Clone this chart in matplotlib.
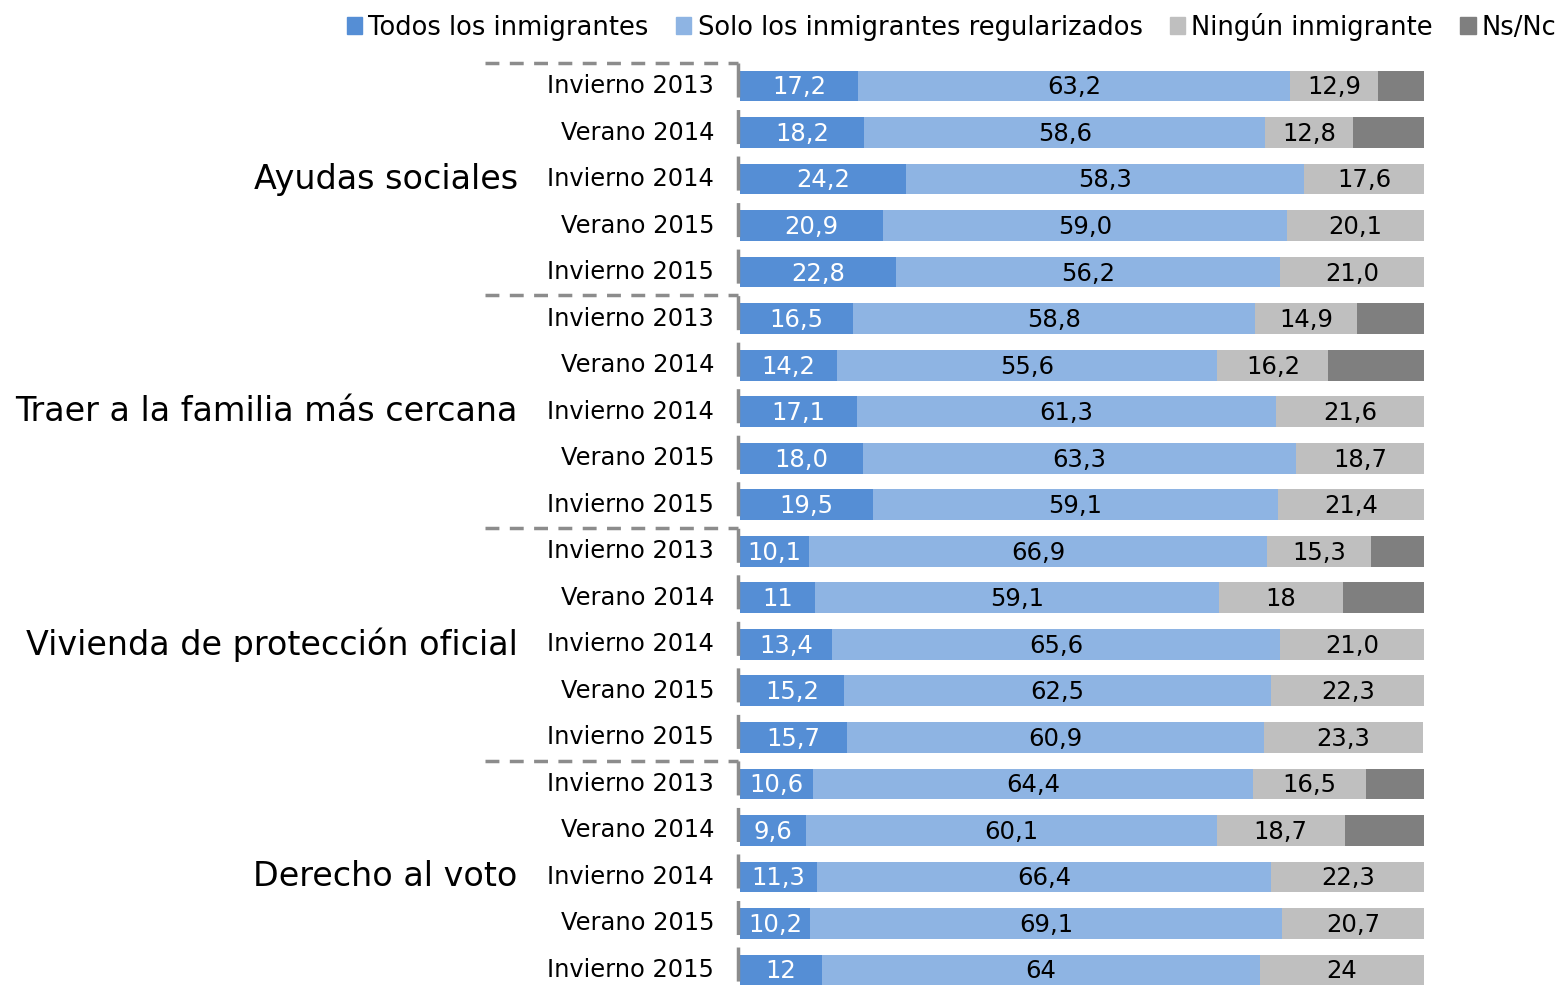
import matplotlib
matplotlib.use("Agg")
import matplotlib.pyplot as plt
import matplotlib.transforms as mtransforms
from matplotlib.patches import Patch

plt.rcParams['font.family'] = ['DejaVu Sans']

groups = ["Ayudas sociales", "Traer a la familia más cercana",
          "Vivienda de protección oficial", "Derecho al voto"]
periods = ["Invierno 2013", "Verano 2014", "Invierno 2014", "Verano 2015", "Invierno 2015"]

todos = [17.2, 18.2, 24.2, 20.9, 22.8,
         16.5, 14.2, 17.1, 18.0, 19.5,
         10.1, 11, 13.4, 15.2, 15.7,
         10.6, 9.6, 11.3, 10.2, 12]
solo = [63.2, 58.6, 58.3, 59.0, 56.2,
        58.8, 55.6, 61.3, 63.3, 59.1,
        66.9, 59.1, 65.6, 62.5, 60.9,
        64.4, 60.1, 66.4, 69.1, 64]
ninguno = [12.9, 12.8, 17.6, 20.1, 21.0,
           14.9, 16.2, 21.6, 18.7, 21.4,
           15.3, 18, 21.0, 22.3, 23.3,
           16.5, 18.7, 22.3, 20.7, 24]
nsnc = [6.7, 10.4, 0, 0, 0,
        9.8, 14.0, 0, 0, 0,
        7.7, 11.9, 0, 0, 0,
        8.5, 11.6, 0, 0, 0]

series = [("Todos los inmigrantes", todos, "#558ED5", "white"),
          ("Solo los inmigrantes regularizados", solo, "#8EB4E3", "black"),
          ("Ningún inmigrante", ninguno, "#BFBFBF", "black"),
          ("Ns/Nc", nsnc, "#7F7F7F", None)]

W, H = 1562, 990
fig = plt.figure(figsize=(W / 100, H / 100), dpi=100)
x0, x1 = 740, 1424
ytop, ybot = 62.75, 993.25
ax = fig.add_axes([x0 / W, 1 - ybot / H, (x1 - x0) / W, (ybot - ytop) / H])

n = len(todos)
ypos = list(range(n))
left = [0] * n
for name, vals, color, tcolor in series:
    ax.barh(ypos, vals, left=left, height=0.66, color=color, label=name)
    if tcolor:
        for i, v in enumerate(vals):
            ax.text(left[i] + v / 2, i + 0.03, str(v).replace(".", ","),
                    ha="center", va="center", color=tcolor, fontsize=17.5)
    left = [l + v for l, v in zip(left, vals)]

ax.set_xlim(0, 100)
ax.set_ylim(n - 0.5, -0.5)
ax.set_xticks([])
ax.set_yticks([])
for s in ax.spines.values():
    s.set_visible(False)

trans = mtransforms.blended_transform_factory(ax.transAxes, ax.transData)
# dashed vertical axis line, drawn top-down
ax.plot([-0.003, -0.003], [-0.5, n - 0.5], transform=trans, color="#8C8C8C",
        lw=2.5, ls=(0, (9.8, 3.6)), clip_on=False)
for i in range(n):
    ax.text(-0.038, i, periods[i % 5], transform=trans, ha="right", va="center",
            fontsize=17.4, color="black")
for g, name in enumerate(groups):
    ax.text(-0.325, g * 5 + 2, name, transform=trans, ha="right", va="center",
            fontsize=24, color="black")
    ax.plot([-0.3728, -0.003], [g * 5 - 0.5, g * 5 - 0.5], transform=trans,
            color="#8C8C8C", lw=2.5, ls=(0, (4, 3)), clip_on=False)

handles = [Patch(color=c, label=nm) for nm, _, c, _ in series]
fig.legend(handles=handles, loc="upper right", bbox_to_anchor=(1.004, 0.999), ncol=4,
           frameon=False, fontsize=18.5, handlelength=0.6, handleheight=0.6,
           handletextpad=0.25, columnspacing=1.05, borderaxespad=0.05)

fig.savefig("out.png", dpi=100)
